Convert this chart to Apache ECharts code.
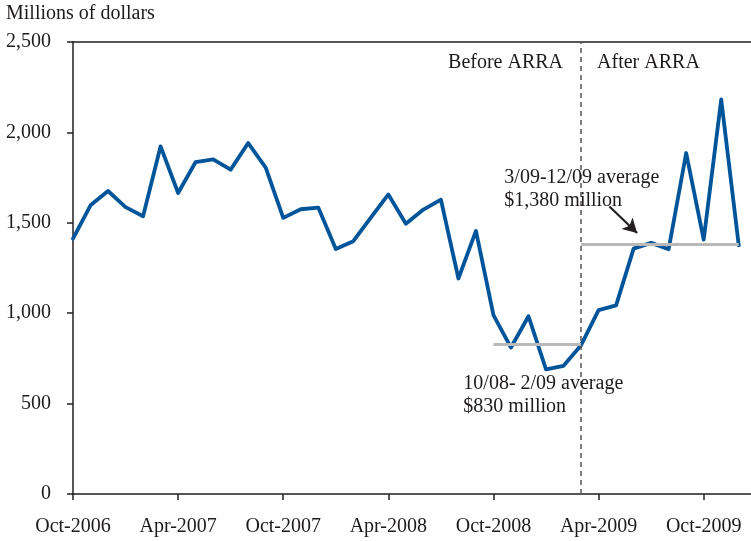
<!DOCTYPE html>
<html>
<head>
<meta charset="utf-8">
<script src="https://cdn.jsdelivr.net/npm/echarts@6/dist/echarts.min.js"></script>
<style>html,body{margin:0;padding:0;background:#fff}#c{width:751px;height:541px}</style>
</head>
<body>
<div id="c"></div>
<script>
// Monthly values, Oct-2006 .. Dec-2009 (millions of dollars)
var months = ['Oct-2006','Nov-2006','Dec-2006','Jan-2007','Feb-2007','Mar-2007','Apr-2007','May-2007','Jun-2007','Jul-2007','Aug-2007','Sep-2007',
  'Oct-2007','Nov-2007','Dec-2007','Jan-2008','Feb-2008','Mar-2008','Apr-2008','May-2008','Jun-2008','Jul-2008','Aug-2008','Sep-2008',
  'Oct-2008','Nov-2008','Dec-2008','Jan-2009','Feb-2009','Mar-2009','Apr-2009','May-2009','Jun-2009','Jul-2009','Aug-2009','Sep-2009',
  'Oct-2009','Nov-2009','Dec-2009'];
var values = [1413,1597,1676,1587,1536,1923,1665,1836,1851,1794,1941,1805,
  1527,1575,1584,1355,1398,1529,1657,1495,1573,1628,1192,1455,
  989,810,983,689,709,823,1017,1043,1357,1389,1354,1886,
  1407,2182,1376];
var xTickLabels = ['Oct-2006','Apr-2007','Oct-2007','Apr-2008','Oct-2008','Apr-2009','Oct-2009'];
var yTickLabels = ['0','500','1,000','1,500','2,000','2,500'];
var avgBefore = 830;   // 10/08-2/09
var avgAfter = 1380;   // 3/09-12/09
var arraIndex = 29;    // Mar-2009
var beforeStart = 24, afterEnd = 38;

var FONT = 'Liberation Serif';
var FS = 20;
var TXT = '#1e1a1b';
var data = values.map(function (v, i) { return [i, v]; });

var chart = echarts.init(document.getElementById('c'));
chart.setOption({
  animation: false,
  backgroundColor: '#fff',
  grid: { left: 73, right: 0, top: 42, bottom: 47, containLabel: false },
  graphic: [{
    type: 'text', left: 6, top: 4,
    style: { text: 'Millions of dollars', font: FS + 'px "Liberation Serif"', fill: TXT }
  }],
  xAxis: [{
    type: 'value', min: 0, max: 38.7, interval: 6,
    axisLine: { show: true, onZero: false, lineStyle: { color: '#231f20', width: 1.5 } },
    axisTick: { show: true, inside: false, length: 6, lineStyle: { color: '#231f20', width: 1.5 } },
    axisLabel: {
      show: true, margin: 23, fontFamily: FONT, fontSize: FS, color: TXT,
      showMaxLabel: false,
      formatter: function (v) { return (v % 6 === 0 && xTickLabels[v / 6]) ? xTickLabels[v / 6] : ''; }
    },
    splitLine: { show: false }
  }, {
    type: 'value', min: 0, max: 38.7, position: 'top',
    axisLine: { show: true, onZero: false, lineStyle: { color: '#231f20', width: 1.5 } },
    axisTick: { show: false }, axisLabel: { show: false }, splitLine: { show: false }
  }],
  yAxis: {
    type: 'value', min: 0, max: 2500, interval: 500,
    axisLine: { show: true, lineStyle: { color: '#231f20', width: 1.5 } },
    axisTick: { show: true, inside: false, length: 6, lineStyle: { color: '#231f20', width: 1.5 } },
    axisLabel: {
      margin: 22, fontFamily: FONT, fontSize: FS, color: TXT,
      formatter: function (v) { return yTickLabels[Math.round(v / 500)]; }
    },
    splitLine: { show: false }
  },
  series: [{
    type: 'line', data: data, xAxisIndex: 0,
    symbol: 'none', smooth: false,
    lineStyle: { color: '#00559a', width: 3.8, join: 'round', cap: 'round' },
    z: 3,
    markLine: {
      silent: true, symbol: ['none', 'none'], animation: false,
      label: { show: false },
      data: [
        [{ coord: [arraIndex, 0], lineStyle: { color: '#555', width: 1.5, type: [5, 4] } },
         { coord: [arraIndex, 2500] }],
        [{ coord: [beforeStart, avgBefore], lineStyle: { color: '#b9b9b9', width: 3, type: 'solid' } },
         { coord: [arraIndex, avgBefore] }],
        [{ coord: [arraIndex, avgAfter], lineStyle: { color: '#b9b9b9', width: 3, type: 'solid' } },
         { coord: [afterEnd, avgAfter] }],
        [{ coord: [30.62, 1590], symbol: 'none', lineStyle: { color: '#231f20', width: 2.2, type: 'solid' } },
         { coord: [32.2, 1444], symbol: 'arrow', symbolSize: [12, 14] }]
      ]
    },
    markPoint: {
      silent: true, symbol: 'circle', symbolSize: 0, animation: false,
      label: { show: true, position: [0, 0], fontFamily: FONT, fontSize: FS, color: TXT, lineHeight: 22.5 },
      data: [
        { coord: [arraIndex, 2387], label: { formatter: 'Before ARRA', align: 'right', verticalAlign: 'middle', offset: [-18, 0] } },
        { coord: [arraIndex, 2387], label: { formatter: 'After ARRA', align: 'left', verticalAlign: 'middle', offset: [16, 0] } },
        { coord: [24.62, 1685], label: { formatter: '3/09-12/09 average\n$1,380 million', align: 'left', verticalAlign: 'middle' } },
        { coord: [22.28, 547], label: { formatter: '10/08- 2/09 average\n$830 million', align: 'left', verticalAlign: 'middle' } }
      ]
    }
  }]
});
</script>
</body>
</html>
